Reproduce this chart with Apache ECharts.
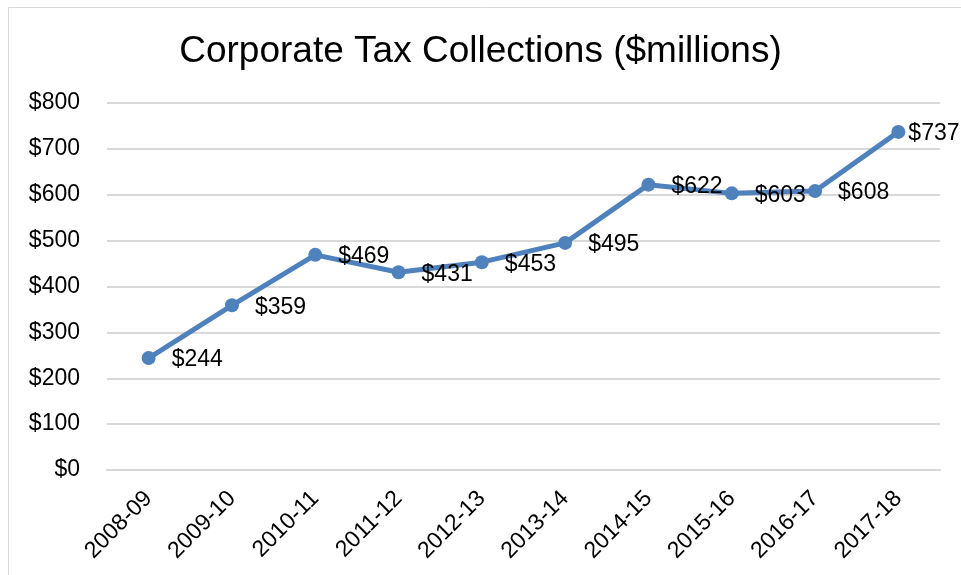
<!DOCTYPE html>
<html><head><meta charset="utf-8">
<script src="https://cdn.jsdelivr.net/npm/echarts@6/dist/echarts.min.js"></script>
<style>html,body{margin:0;padding:0;background:#fff}#c{width:961px;height:575px}</style>
</head><body><div id="c"></div>
<script>
const categories = ['2008-09','2009-10','2010-11','2011-12','2012-13','2013-14','2014-15','2015-16','2016-17','2017-18'];
const values = [244, 359, 469, 431, 453, 495, 622, 603, 608, 737];
const chartTitle = 'Corporate Tax Collections ($millions)';
const yMin = 0, yMax = 800, yStep = 100;

const font = 'Liberation Sans, Arial, sans-serif';
const seriesData = values.map((v, i) => i === values.length - 1
  ? {value: v, label: {distance: 3}}
  : v);
const chart = echarts.init(document.getElementById('c'));
chart.setOption({
  animation: false,
  backgroundColor: '#fff',
  graphic: [{type:'rect', shape:{x:8.5,y:7.5,width:1000,height:1000}, style:{fill:'none', stroke:'#d9d9d9', lineWidth:1}, silent:true, z:-1}],
  title: {text: chartTitle, left: 'center', top: 28, textStyle:{fontFamily:font, fontSize:37, fontWeight:'normal', color:'#000'}},
  grid: {left:107, right:21, top:103, bottom:105},
  xAxis: {type:'category', data: categories, boundaryGap:true,
    axisLine:{show:true, lineStyle:{color:'#d9d9d9', width:2}}, axisTick:{show:false},
    axisLabel:{rotate:45, margin:25, interval:0, color:'#000', fontFamily:font, fontSize:23}},
  yAxis: {type:'value', min:yMin, max:yMax, interval:yStep,
    axisLine:{show:false}, axisTick:{show:false},
    splitLine:{lineStyle:{color:'#d9d9d9', width:2}},
    axisLabel:{margin:27, color:'#000', fontFamily:font, fontSize:23, formatter: v => '$' + v}},
  series: [{type:'line', data: seriesData, symbol:'circle', symbolSize:14,
    lineStyle:{color:'#4f81bd', width:5}, itemStyle:{color:'#4f81bd'},
    label:{show:true, position:'right', distance:16, offset:[0,2], color:'#000', fontFamily:font, fontSize:23, formatter: p => '$' + p.value}}]
});
</script></body></html>
